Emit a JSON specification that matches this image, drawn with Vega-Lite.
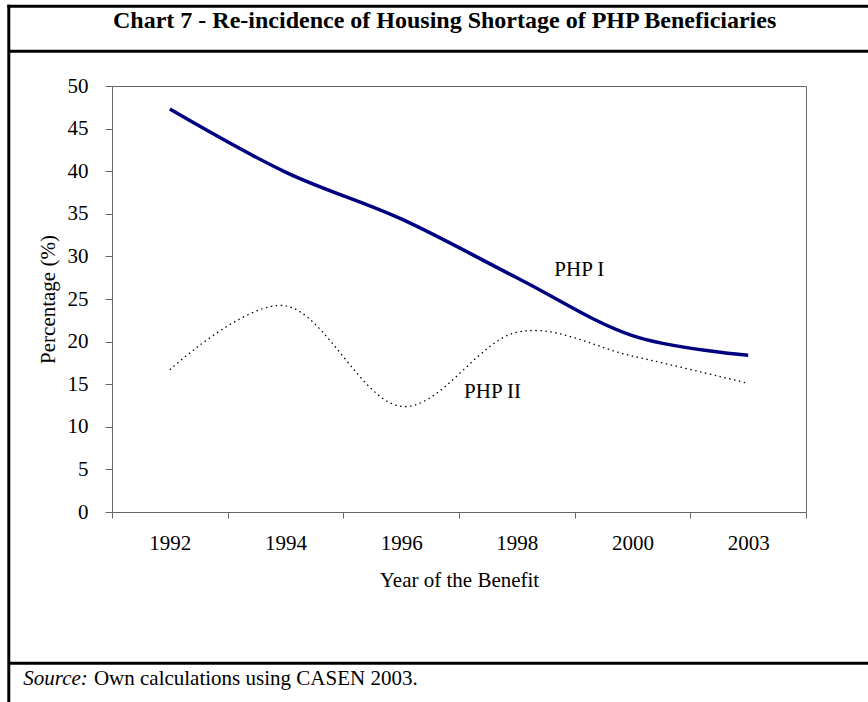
{
  "$schema": "https://vega.github.io/schema/vega-lite/v6.json",
  "width": 868,
  "height": 702,
  "autosize": "none",
  "padding": 0,
  "background": "white",
  "config": {
    "view": {"stroke": null},
    "font": "Liberation Serif",
    "axis": {
      "grid": false,
      "labelFont": "Liberation Serif",
      "titleFont": "Liberation Serif",
      "labelColor": "black",
      "titleColor": "black",
      "titleFontWeight": "normal",
      "labelFontSize": 21,
      "titleFontSize": 21,
      "domainColor": "#666666",
      "tickColor": "#666666",
      "domainWidth": 1,
      "tickWidth": 1
    }
  },
  "layer": [
    {
      "data": {
        "values": [
          {"year": "1992", "series": "PHP I", "value": 47.3},
          {"year": "1994", "series": "PHP I", "value": 39.9},
          {"year": "1996", "series": "PHP I", "value": 34.4},
          {"year": "1998", "series": "PHP I", "value": 27.5},
          {"year": "2000", "series": "PHP I", "value": 20.7},
          {"year": "2003", "series": "PHP I", "value": 18.4},
          {"year": "1992", "series": "PHP II", "value": 16.7},
          {"year": "1994", "series": "PHP II", "value": 24.2},
          {"year": "1996", "series": "PHP II", "value": 12.4},
          {"year": "1998", "series": "PHP II", "value": 21.1},
          {"year": "2000", "series": "PHP II", "value": 18.3},
          {"year": "2003", "series": "PHP II", "value": 15.1}
        ]
      },
      "layer": [
        {
          "transform": [{"filter": "datum.series === 'PHP I'"}],
          "mark": {"type": "line", "interpolate": "cardinal", "tension": 0, "color": "#000080", "strokeWidth": 3.5},
          "encoding": {
            "x": {
              "field": "year", "type": "ordinal",
              "scale": {"type": "band", "domain": ["1992", "1994", "1996", "1998", "2000", "2003"], "range": [112, 806], "paddingInner": 0, "paddingOuter": 0},
              "axis": {"orient": "bottom", "offset": -190, "tickBand": "extent", "tickSize": 6, "labelPadding": 14, "labelAngle": 0, "title": "Year of the Benefit", "titlePadding": 16}
            },
            "y": {
              "field": "value", "type": "quantitative",
              "scale": {"domain": [0, 50], "range": [512, 86], "nice": false, "zero": false},
              "axis": {"orient": "left", "offset": -112, "values": [0, 5, 10, 15, 20, 25, 30, 35, 40, 45, 50], "tickSize": 7, "labelPadding": 17, "labelFlush": false, "title": "Percentage (%)", "titlePadding": 9}
            }
          }
        },
        {
          "transform": [{"filter": "datum.series === 'PHP II'"}],
          "mark": {"type": "line", "interpolate": "cardinal", "tension": 0, "color": "black", "strokeWidth": 1.3, "strokeDash": [1.5, 3.5]},
          "encoding": {
            "x": {"field": "year", "type": "ordinal", "axis": null},
            "y": {"field": "value", "type": "quantitative", "axis": null}
          }
        },
        {
          "data": {"values": [{}]},
          "mark": {"type": "text", "text": "PHP I", "font": "Liberation Serif", "fontSize": 21, "align": "center", "baseline": "middle", "color": "black"},
          "encoding": {
            "x": {"datum": "2000", "type": "ordinal", "bandPosition": 0.04, "axis": null},
            "y": {"datum": 28.4, "type": "quantitative", "axis": null}
          }
        },
        {
          "data": {"values": [{}]},
          "mark": {"type": "text", "text": "PHP II", "font": "Liberation Serif", "fontSize": 21, "align": "center", "baseline": "middle", "color": "black"},
          "encoding": {
            "x": {"datum": "1998", "type": "ordinal", "bandPosition": 0.29, "axis": null},
            "y": {"datum": 14.1, "type": "quantitative", "axis": null}
          }
        },
        {
          "data": {"values": [{}]},
          "mark": {"type": "text", "text": " "},
          "encoding": {
            "x": {"datum": "1992", "type": "ordinal", "axis": {"orient": "top", "offset": -86, "ticks": false, "labels": false, "title": null}},
            "y": {"datum": 0, "type": "quantitative", "axis": {"orient": "right", "offset": -62, "ticks": false, "labels": false, "title": null}}
          }
        }
      ],
      "resolve": {"axis": {"x": "independent", "y": "independent"}}
    },
    {
      "data": {"values": [{}]},
      "layer": [
        {
          "mark": {"type": "text", "text": " "},
          "encoding": {
            "x": {"datum": 0, "type": "quantitative", "scale": {"domain": [0, 1], "range": [8.3, 881], "nice": false, "zero": false},
              "axis": {"orient": "top", "offset": -5.7, "ticks": false, "labels": false, "title": null, "domainColor": "black", "domainWidth": 3, "domainCap": "square"}},
            "y": {"datum": 0, "type": "quantitative", "scale": {"domain": [0, 1], "range": [5.7, 702], "nice": false, "zero": false},
              "axis": {"orient": "left", "offset": -8.3, "ticks": false, "labels": false, "title": null, "domainColor": "black", "domainWidth": 3, "domainCap": "square"}}
          }
        },
        {
          "mark": {"type": "text", "text": " "},
          "encoding": {
            "x": {"datum": 0, "type": "quantitative",
              "axis": {"orient": "top", "offset": -50.8, "ticks": false, "labels": false, "title": null, "domainColor": "black", "domainWidth": 3}}
          }
        },
        {
          "mark": {"type": "text", "text": " "},
          "encoding": {
            "x": {"datum": 0, "type": "quantitative",
              "axis": {"orient": "bottom", "offset": -39.3, "ticks": false, "labels": false, "title": null, "domainColor": "black", "domainWidth": 3}}
          }
        },
        {
          "mark": {"type": "text", "text": "Chart 7 - Re-incidence of Housing Shortage of PHP Beneficiaries", "font": "Liberation Serif", "fontSize": 24, "fontWeight": "bold", "align": "center", "baseline": "middle", "color": "black"},
          "encoding": {
            "x": {"datum": 0.5, "type": "quantitative", "axis": null},
            "y": {"datum": 0.022, "type": "quantitative", "axis": null}
          }
        },
        {
          "mark": {"type": "text", "text": "Source:", "font": "Liberation Serif", "fontSize": 21, "fontStyle": "italic", "align": "left", "baseline": "middle", "color": "black"},
          "encoding": {
            "x": {"datum": 0.0172, "type": "quantitative", "axis": null},
            "y": {"datum": 0.967, "type": "quantitative", "axis": null}
          }
        },
        {
          "mark": {"type": "text", "text": "Own calculations using CASEN 2003.", "font": "Liberation Serif", "fontSize": 21, "fontStyle": "normal", "fontWeight": "normal", "align": "left", "baseline": "middle", "color": "black"},
          "encoding": {
            "x": {"datum": 0.0981, "type": "quantitative", "axis": null},
            "y": {"datum": 0.967, "type": "quantitative", "axis": null}
          }
        }
      ],
      "resolve": {"axis": {"x": "independent", "y": "independent"}}
    }
  ],
  "resolve": {
    "scale": {"x": "independent", "y": "independent"},
    "axis": {"x": "independent", "y": "independent"}
  }
}
